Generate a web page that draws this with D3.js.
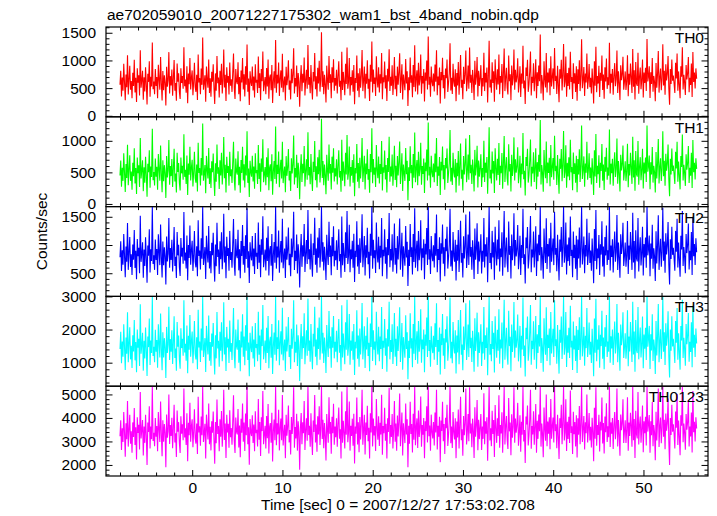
<!DOCTYPE html>
<html><head><meta charset="utf-8">
<script src="https://cdn.jsdelivr.net/npm/d3@7/dist/d3.min.js"></script>
<style>
body{margin:0;background:#fff}
svg{display:block}
text{font-family:"Liberation Sans",Arial,Helvetica,sans-serif;fill:#000}
</style>
</head><body>
<svg id="chart" width="717" height="516"></svg>
<script>
// ---------- data ----------
const chartTitle = "ae702059010_20071227175302_wam1_bst_4band_nobin.qdp";
const xAxisLabel = "Time [sec] 0 = 2007/12/27 17:53:02.708";
const yAxisLabel = "Counts/sec";
const panelNames = ["TH0", "TH1", "TH2", "TH3", "TH0123"];
const panelColors = ["#ff0000", "#00ff00", "#0000ff", "#00ffff", "#ff00ff"];
const timeStart = -8;      // sec, first bin
const binWidth = 0.0833;   // sec
const xTicksMajor = [0, 10, 20, 30, 40, 50];

const th0 = [
560,812,347,690,455,938,602,281,744,517,1094,386,655,903,472,628,
319,776,540,1012,421,687,250,859,598,733,366,1182,507,641,812,290,
695,438,876,573,204,759,612,984,345,706,529,1326,480,617,391,845,
537,702,318,921,654,472,1063,589,277,811,460,733,598,186,887,524,
642,1150,403,716,548,835,362,679,1008,452,590,273,944,617,768,431,
306,860,593,719,488,1237,534,654,415,896,229,762,571,1044,476,690,
820,371,608,958,520,433,742,287,1106,602,684,388,853,559,1412,470,
593,731,255,889,646,508,1017,412,678,344,795,615,930,497,214,766,
452,1078,587,693,329,812,556,940,403,628,1196,510,742,268,875,600,
719,384,961,545,661,432,788,1125,497,306,843,622,571,968,389,700,
264,817,604,1042,475,749,350,896,560,1289,433,675,197,804,617,538,
889,456,710,329,932,598,651,412,1071,502,767,282,846,624,1163,443,
577,702,390,865,531,1015,308,689,744,460,917,233,629,803,499,1368,
418,741,585,962,356,673,820,509,1120,426,598,708,275,884,552,692,
1004,471,636,297,851,590,746,1222,403,682,528,907,341,773,615,162,
664,915,446,757,598,1053,368,640,832,487,1279,561,700,409,918,533,
296,789,620,1136,478,713,350,868,582,995,437,656,1508,519,804,391,
742,563,241,906,635,470,1081,592,751,318,877,604,1020,455,680,544,
830,402,716,983,527,635,281,1158,468,793,609,371,940,576,1233,489,
616,1045,367,701,554,822,433,917,208,684,593,1090,452,769,337,858,
507,724,1187,446,639,892,315,760,581,1003,489,668,266,921,615,1341,
423,836,574,690,357,1074,642,511,878,420,752,583,1135,301,696,605,
981,492,733,266,850,619,1204,448,707,541,913,378,639,1062,480,722,
355,888,560,780,1129,413,656,931,294,744,602,462,1026,583,806,176,
694,461,1052,597,734,336,918,521,1273,440,679,823,387,956,548,663,
1109,399,717,586,846,259,780,633,1000,475,1432,562,703,346,890,614,
534,763,441,926,615,1185,373,708,552,873,224,791,643,1048,497,735,
310,854,678,1016,429,592,769,1311,458,687,395,942,610,527,839,265,
772,546,972,380,713,1098,506,652,300,885,575,748,1179,442,623,910,
487,1234,599,739,413,829,637,287,993,561,704,1062,349,812,538,683,
915,357,681,528,1140,446,776,604,872,239,730,1356,510,655,418,966,
591,803,253,1019,680,473,842,566,1105,391,720,597,937,322,774,1217,
446,694,869,509,384,1087,626,752,283,909,550,678,1196,472,833,605,
703,1038,422,615,894,340,764,581,1266,496,638,213,871,719,1014,433,
567,815,1163,367,703,592,950,446,684,1021,318,787,540,906,623,1470,
402,738,598,281,987,657,512,1132,422,780,602,859,370,1075,531,699,
856,485,1223,631,722,394,905,568,246,842,671,1011,459,736,1298,517,
618,1070,343,774,540,869,475,1157,612,701,305,948,585,768,431,893,
271,840,577,1003,446,718,1384,498,651,883,360,764,604,1126,487,647,
935,516,689,402,853,612,223,986,543,1249,427,719,582,902,341,778,
632,1089,468,745,309,876,620,1033,487,694,554,1320,401,760,598,843,
381,721,951,534,663,1178,410,805,590,286,912,643,748,1067,472,617,
802,466,624,1094,355,758,561,943,687,412,1205,525,822,294,970,580,
540,1137,398,706,872,481,649,1016,330,781,593,868,447,1385,622,711,
896,322,787,573,1044,436,720,611,262,955,508,760,1172,419,694,852,
463,669,1292,548,813,380,929,637,758,1081,497,202,845,574,1018,633,
728,584,413,960,676,1126,452,802,559,318,893,705,1240,476,741,600,
375,917,655,771,1060,424,688,556,943,341,1154,612,780,493,856,668];

const th1 = [
452,688,271,574,365,803,497,190,631,412,936,298,540,772,366,515,
226,651,438,880,323,570,158,735,487,612,270,1046,404,529,690,203,
581,337,748,462,115,636,503,851,255,592,426,1190,377,506,292,720,
430,589,224,792,541,368,925,482,186,690,359,614,489,96,758,418,
530,1013,305,601,441,711,268,566,872,355,482,183,812,506,647,334,
212,737,485,603,384,1102,429,541,318,768,142,640,462,904,373,578,
700,276,497,826,414,335,625,197,968,491,569,293,728,451,1274,369,
483,615,168,761,534,404,884,316,563,253,674,503,799,392,128,645,
352,943,478,580,238,690,449,811,309,516,1060,406,621,180,748,492,
602,290,828,439,549,333,666,985,392,215,719,510,463,836,295,588,
176,697,492,906,371,630,259,767,452,1150,334,561,110,684,505,432,
761,355,592,240,802,487,539,316,935,397,646,193,720,512,1024,344,
467,585,297,738,423,880,218,574,627,361,788,147,518,681,395,1228,
321,622,475,829,264,559,699,405,984,330,487,592,186,757,445,578,
870,370,523,206,725,482,627,1082,310,568,421,779,252,652,503,75,
549,786,348,638,487,916,276,527,708,384,1137,453,584,314,790,426,
205,666,508,997,375,596,260,741,472,858,339,543,1350,412,681,298,
624,455,152,777,521,368,942,481,632,229,749,493,882,356,566,437,
706,309,599,849,421,522,192,1018,367,670,497,280,810,465,1092,385,
504,908,276,586,446,697,336,788,122,570,483,951,352,648,247,730,
402,607,1046,347,527,763,228,640,471,866,384,555,178,792,503,1199,
327,712,463,577,268,934,530,406,752,323,631,473,995,214,582,494,
846,389,616,181,726,508,1063,350,592,436,784,289,527,922,378,606,
264,760,451,658,990,318,543,802,206,625,491,365,887,472,683,58,
579,364,913,486,615,250,789,414,1131,343,566,697,297,826,440,550,
968,305,601,475,719,174,655,520,862,373,1290,452,588,258,762,503,
425,641,343,797,504,1045,285,591,447,745,140,668,530,908,393,617,
225,728,563,877,333,484,647,1170,357,572,302,811,499,420,713,182,
651,438,837,290,598,958,401,540,214,758,465,628,1038,345,512,781,
383,1093,488,619,318,704,525,199,856,452,589,921,262,689,430,570,
785,270,569,421,1000,347,654,493,744,160,611,1214,405,543,325,832,
482,680,173,880,567,373,715,458,964,301,604,486,805,240,652,1075,
349,580,741,405,293,946,514,632,198,779,443,564,1054,372,706,494,
590,898,329,503,764,255,641,470,1124,392,527,135,743,600,875,338,
458,689,1020,278,588,483,818,347,570,881,232,662,433,777,510,1330,
308,617,487,194,853,544,408,990,327,657,491,731,281,934,424,584,
727,382,1081,520,606,301,775,459,163,715,556,870,361,617,1156,410,
507,929,258,650,434,740,374,1015,501,586,218,816,475,645,335,763,
187,712,466,864,348,601,1242,394,540,753,272,642,493,985,385,536,
803,410,576,308,725,500,141,850,436,1107,333,603,471,772,255,653,
521,948,367,624,222,745,509,891,383,578,446,1178,309,638,487,716,
290,603,818,428,551,1036,319,678,479,199,780,531,627,927,371,506,
674,362,514,953,266,633,452,809,569,318,1063,420,693,208,837,470,
432,996,305,590,741,377,539,875,243,655,482,737,348,1243,511,594,
766,234,662,465,903,338,603,502,180,821,404,637,1030,323,579,722,
362,557,1150,440,683,290,796,528,635,940,392,124,714,466,877,522,
608,474,318,828,561,985,352,671,451,231,760,586,1098,373,620,491,
286,785,542,648,919,331,573,447,810,253,1012,503,653,389,724,555];

const th2 = [
782,1065,540,906,652,1193,815,430,973,705,1388,560,870,1142,610,835,
468,1010,741,1266,592,897,395,1105,803,951,498,1520,702,846,1050,420,
920,628,1137,776,330,990,812,1280,515,924,717,1680,666,818,560,1098,
735,928,470,1190,866,644,1365,790,425,1061,640,961,800,300,1150,710,
850,1480,596,946,737,1092,532,890,1320,630,790,418,1230,817,1003,605,
453,1125,795,950,668,1585,724,866,585,1170,375,1002,769,1345,650,912,
1073,541,816,1249,704,605,977,445,1436,806,903,566,1118,755,1680,648,
797,962,398,1162,856,689,1335,584,892,500,1038,818,1215,677,352,1008,
624,1395,787,918,488,1066,748,1227,572,836,1554,690,975,412,1145,805,
948,544,1250,734,877,598,1029,1460,673,458,1105,823,766,1268,551,925,
410,1070,804,1356,650,984,510,1174,752,1652,598,889,326,1048,818,729,
1160,623,936,486,1213,794,862,575,1399,684,1006,430,1103,829,1510,607,
766,920,548,1128,715,1330,460,907,980,632,1196,362,829,1052,684,1680,
582,975,778,1257,510,885,1072,690,1466,588,795,936,415,1152,740,910,
1310,643,844,448,1113,784,981,1590,557,898,716,1185,495,1011,815,250,
874,1194,613,994,795,1373,522,845,1089,666,1620,750,923,568,1198,716,
440,1032,822,1481,650,937,508,1133,776,1299,602,867,1680,705,1050,547,
970,753,380,1180,838,646,1411,787,989,466,1143,801,1330,622,898,731,
1084,557,941,1280,714,841,420,1506,642,1037,807,521,1225,768,1600,666,
815,1360,518,922,748,1076,598,1197,345,900,786,1420,620,1006,487,1121,
688,953,1545,606,840,1160,462,996,773,1306,661,881,405,1201,812,1680,
579,1092,765,906,505,1399,848,690,1145,570,985,776,1476,445,914,800,
1279,667,959,402,1108,820,1565,606,927,727,1190,528,840,1380,652,946,
495,1157,744,1018,1470,561,863,1215,437,976,798,634,1338,778,1056,275,
915,630,1372,790,962,476,1196,700,1650,597,889,1076,534,1247,731,871,
1440,551,940,776,1103,392,1020,833,1302,646,1680,745,925,485,1160,812,
712,997,602,1208,811,1540,516,928,733,1136,355,1032,845,1365,668,961,
445,1112,889,1324,582,778,1002,1640,621,901,540,1229,804,705,1092,372,
1006,723,1265,523,932,1430,685,856,427,1155,760,975,1540,595,818,1186,
648,1593,792,966,562,1082,838,400,1294,741,920,1385,487,1060,710,895,
1192,495,897,704,1480,601,1012,795,1137,342,952,1680,683,860,570,1250,
780,1050,384,1325,890,636,1096,749,1440,532,940,785,1224,458,1011,1600,
601,905,1133,680,520,1418,826,980,405,1186,731,893,1560,634,1087,798,
921,1354,573,810,1165,468,998,771,1640,660,838,318,1133,942,1320,583,
752,1066,1515,516,918,780,1240,600,897,1333,450,1027,713,1180,820,1680,
548,962,790,401,1290,865,683,1475,577,1016,795,1120,508,1396,704,912,
1114,644,1590,828,946,535,1180,750,370,1098,882,1318,612,960,1680,685,
811,1397,480,1009,715,1133,632,1505,805,917,431,1237,770,1003,580,1163,
380,1096,762,1308,598,937,1680,657,857,1150,500,998,796,1466,646,848,
1218,681,901,545,1113,806,325,1284,718,1620,572,937,766,1178,470,1014,
830,1420,620,974,440,1141,816,1347,646,906,735,1680,549,992,788,1101,
515,940,1238,705,872,1530,556,1046,778,420,1189,843,977,1392,628,808,
1045,617,820,1425,488,989,740,1230,898,560,1569,692,1072,405,1262,763,
710,1480,530,926,1137,638,852,1322,460,1019,781,1133,597,1680,817,928,
1168,448,1027,755,1359,579,940,800,365,1245,673,991,1528,560,906,1110,
614,876,1660,723,1061,510,1207,834,987,1408,655,300,1102,752,1324,826,
950,768,545,1250,883,1465,601,1045,730,438,1165,922,1600,629,964,787,
500,1196,857,1006,1380,565,899,731,1228,470,1502,800,1017,645,1118,871];

const th3 = [
1410,1930,980,1640,1180,2160,1470,780,1760,1270,2520,1010,1570,2070,1100,1510,
840,1830,1340,2290,1070,1620,710,2000,1450,1720,900,2760,1270,1530,1900,760,
1660,1130,2060,1400,600,1790,1470,2330,930,1670,1290,3000,1200,1480,1010,1990,
1330,1680,850,2160,1570,1160,2480,1430,770,1920,1160,1740,1450,540,2080,1290,
1540,2690,1080,1710,1330,1980,960,1610,2400,1140,1430,760,2230,1480,1820,1100,
820,2040,1440,1720,1210,2880,1310,1570,1060,2120,680,1810,1390,2440,1180,1650,
1940,980,1480,2260,1270,1100,1770,800,2600,1460,1640,1020,2030,1370,3000,1170,
1440,1740,720,2110,1550,1250,2420,1060,1620,910,1880,1480,2200,1230,640,1830,
1130,2530,1430,1660,880,1930,1360,2220,1040,1520,2820,1250,1770,750,2080,1460,
1720,990,2270,1330,1590,1080,1860,2650,1220,830,2000,1490,1390,2300,1000,1680,
740,1940,1460,2460,1180,1790,920,2130,1360,3000,1080,1610,590,1900,1480,1320,
2100,1130,1700,880,2200,1440,1560,1040,2540,1240,1820,780,2000,1500,2740,1100,
1390,1670,990,2050,1290,2410,830,1640,1780,1150,2170,660,1500,1910,1240,3000,
1060,1770,1410,2280,920,1610,1950,1250,2660,1070,1440,1700,750,2090,1340,1650,
2380,1170,1530,810,2020,1420,1780,2880,1010,1630,1300,2150,900,1830,1480,450,
1590,2170,1110,1800,1440,2490,950,1530,1980,1210,2940,1360,1670,1030,2170,1300,
800,1870,1490,2690,1180,1700,920,2050,1410,2360,1090,1570,3000,1280,1900,990,
1760,1370,690,2140,1520,1170,2560,1430,1790,850,2070,1450,2410,1130,1630,1330,
1960,1010,1710,2320,1300,1530,760,2730,1160,1880,1460,950,2220,1390,2900,1210,
1480,2470,940,1670,1360,1950,1090,2170,630,1630,1430,2580,1120,1820,880,2030,
1250,1730,2800,1100,1520,2100,840,1810,1400,2370,1200,1600,740,2180,1470,3000,
1050,1980,1390,1640,920,2540,1540,1250,2080,1040,1790,1410,2680,810,1660,1450,
2320,1210,1740,730,2010,1490,2840,1100,1680,1320,2160,960,1520,2500,1180,1720,
900,2100,1350,1840,2670,1020,1560,2200,790,1770,1450,1150,2430,1410,1920,500,
1660,1140,2490,1430,1740,860,2170,1270,3000,1080,1610,1950,970,2260,1330,1580,
2610,1000,1700,1410,2000,710,1850,1510,2360,1170,3000,1350,1680,880,2100,1470,
1290,1810,1090,2190,1470,2790,930,1680,1330,2060,640,1870,1530,2470,1210,1740,
810,2010,1610,2400,1060,1410,1820,2970,1130,1630,980,2230,1460,1280,1980,670,
1820,1310,2290,950,1690,2590,1240,1550,770,2090,1380,1770,2790,1080,1480,2150,
1170,2880,1440,1750,1020,1960,1520,730,2340,1350,1670,2510,880,1920,1290,1620,
2160,900,1630,1280,2680,1090,1830,1440,2060,620,1730,3000,1240,1560,1040,2260,
1410,1900,700,2400,1610,1150,1990,1360,2610,970,1700,1430,2210,830,1830,2900,
1090,1640,2050,1230,940,2570,1500,1780,740,2150,1320,1620,2830,1150,1970,1450,
1670,2450,1040,1470,2110,850,1810,1400,2970,1200,1520,580,2050,1710,2390,1060,
1360,1930,2740,940,1660,1410,2250,1090,1630,2410,820,1860,1290,2140,1490,3000,
990,1740,1430,730,2340,1570,1240,2670,1050,1840,1440,2030,920,2530,1280,1650,
2020,1170,2880,1500,1710,970,2140,1360,670,1990,1600,2390,1110,1740,3000,1240,
1470,2530,870,1830,1300,2050,1140,2720,1460,1660,780,2240,1400,1820,1050,2110,
690,1990,1380,2370,1080,1700,3000,1190,1550,2080,910,1810,1440,2650,1170,1540,
2210,1240,1630,990,2020,1460,590,2330,1300,2930,1040,1700,1390,2130,850,1840,
1500,2570,1120,1760,800,2070,1480,2440,1170,1640,1330,3000,1000,1800,1430,2000,
930,1700,2240,1280,1580,2770,1010,1900,1410,760,2150,1530,1770,2520,1140,1460,
1890,1120,1490,2580,890,1790,1340,2230,1630,1020,2840,1250,1940,730,2290,1380,
1290,2680,1100,1680,2060,1160,1550,2390,830,1850,1420,2050,1080,3000,1480,1720,
2110,810,1860,1370,2460,1050,1700,1450,660,2260,1220,1800,2770,1010,1640,2010,
1110,1590,3000,1330,1920,930,2190,1510,1780,2550,1190,550,2000,1360,2400,1490,
1720,1390,990,2260,1600,2650,1090,1890,1320,790,2110,1670,2900,1140,1750,1420,
910,2170,1560,1820,2500,1030,1630,1320,2220,860,2720,1450,1840,1170,2030,1580];

const th0123 = [
3220,3900,2640,3560,2980,4250,3380,2350,3770,3090,4720,2780,3490,4130,2900,3430,
2520,3810,3190,4420,2850,3600,2230,4030,3360,3710,2660,5100,3130,3480,3910,2400,
3630,2940,4140,3250,2000,3810,3400,4500,2700,3640,3100,5350,3020,3370,2800,4000,
3200,3660,2580,4250,3530,2980,4700,3320,2370,3900,2990,3740,3370,1900,4150,3160,
3440,5000,2890,3700,3230,4010,2710,3590,4560,2960,3350,2340,4320,3410,3820,2930,
2510,4070,3330,3730,3050,5250,3170,3560,2850,4200,2160,3800,3260,4650,2990,3650,
3940,2750,3420,4370,3140,2910,3760,2470,4900,3380,3650,2820,4060,3260,5350,2980,
3350,3750,2270,4140,3540,3080,4610,2880,3620,2620,3860,3370,4270,3040,2050,3830,
2920,4780,3320,3660,2580,3940,3200,4290,2780,3470,5200,3060,3760,2300,4130,3380,
3750,2730,4330,3180,3570,2860,3870,4960,3020,2510,4020,3410,3300,4380,2740,3680,
2330,3960,3370,4610,2990,3800,2590,4190,3260,5350,2880,3600,2010,3950,3390,3230,
4110,2930,3720,2580,4280,3350,3500,2790,4800,3070,3830,2380,4030,3440,5150,2880,
3290,3670,2700,4080,3140,4590,2490,3620,3780,2950,4220,2150,3440,3930,3050,5350,
2840,3770,3300,4350,2620,3590,3970,3050,4980,2830,3360,3710,2290,4130,3240,3640,
4530,2960,3490,2450,4040,3320,3790,5300,2730,3610,3130,4180,2610,3860,3390,1800,
3590,4210,2880,3820,3350,4720,2640,3500,3990,3030,5350,3270,3670,2780,4200,3150,
2420,3890,3400,4980,2960,3720,2560,4070,3300,4500,2850,3540,5350,3100,3920,2710,
3780,3240,2190,4170,3480,2950,4880,3330,3830,2480,4050,3350,4600,2860,3630,3180,
3990,2780,3740,4440,3120,3520,2280,5120,2940,3880,3370,2700,4280,3290,5350,2970,
3390,4700,2610,3670,3230,3970,2820,4180,2060,3630,3330,4870,2870,3820,2540,4040,
3080,3730,5200,2860,3500,4130,2440,3810,3280,4520,3010,3580,2280,4200,3380,5350,
2790,3980,3250,3650,2590,4810,3520,3070,4070,2810,3790,3300,4990,2430,3660,3350,
4430,3030,3750,2270,3990,3400,5280,2900,3700,3190,4170,2700,3510,4720,2990,3760,
2600,4100,3210,3850,5040,2800,3550,4230,2400,3770,3350,2930,4610,3300,3940,1900,
3670,2900,4690,3320,3740,2530,4180,3070,5350,2840,3600,3980,2720,4320,3190,3570,
4910,2770,3700,3290,4000,2290,3860,3440,4500,2960,5350,3220,3680,2600,4140,3390,
3130,3830,2830,4230,3380,5200,2660,3670,3200,4050,2120,3890,3450,4690,3010,3740,
2470,4010,3560,4560,2810,3290,3850,5350,2920,3630,2720,4250,3380,3080,3990,2290,
3850,3170,4360,2700,3680,4900,3050,3520,2390,4080,3260,3770,5250,2870,3390,4170,
3010,5300,3340,3760,2750,3970,3450,2300,4450,3200,3670,4760,2630,3920,3100,3610,
4170,2640,3630,3110,5050,2880,3860,3330,4030,2180,3730,5350,3040,3560,2800,4300,
3320,3910,2340,4550,3590,2940,3990,3230,4960,2730,3700,3340,4240,2520,3830,5350,
2870,3650,4080,3070,2680,4850,3430,3800,2410,4160,3160,3630,5300,2950,3970,3370,
3690,4640,2820,3380,4110,2560,3840,3290,5350,3000,3490,2080,4060,3720,4530,2830,
3240,3930,5200,2690,3660,3300,4280,2860,3620,4590,2520,3880,3110,4150,3430,5350,
2780,3760,3330,2330,4440,3520,3030,5000,2800,3850,3330,4030,2670,4800,3120,3650,
4020,2960,5350,3440,3730,2710,4130,3250,2250,3990,3570,4560,2880,3760,5350,3040,
3380,4790,2590,3840,3100,4050,2930,5170,3360,3650,2470,4260,3310,3830,2790,4110,
2320,3990,3290,4510,2880,3700,5350,2980,3550,4080,2660,3820,3350,5000,2960,3530,
4210,3040,3620,2740,4010,3400,2160,4430,3120,5300,2820,3700,3280,4130,2570,3840,
3470,4870,2910,3780,2490,4060,3390,4620,2980,3640,3180,5350,2760,3810,3330,4000,
2680,3700,4250,3090,3570,5250,2790,3910,3300,2390,4150,3480,3780,4790,2930,3440,
3900,2930,3470,4880,2600,3800,3230,4220,3630,2770,5350,3050,3950,2300,4300,3300,
3130,5100,2870,3680,4060,2950,3540,4530,2540,3860,3350,4050,2830,5350,3420,3720,
4120,2520,3860,3260,4680,2800,3700,3380,2200,4260,3040,3800,5250,2760,3640,4020,
2920,3580,5350,3200,3920,2670,4190,3460,3780,4830,2990,2000,4000,3270,4560,3410,
3730,3330,2700,4270,3580,5020,2850,3890,3210,2410,4110,3670,5350,2970,3760,3370,
2650,4170,3500,3820,4760,2790,3630,3210,4230,2530,5150,3390,3840,3000,4030,3550];

const seriesValues = [th0, th1, th2, th3, th0123];
const yDomains = [[-18, 1604], [-42, 1380], [90, 1680], [290, 3000], [1530, 5350]];
const yTicksMajor = [[0, 500, 1000, 1500], [0, 500, 1000], [500, 1000, 1500], [1000, 2000, 3000], [2000, 3000, 4000, 5000]];
const yMinorStep = [100, 100, 100, 200, 200];

// ---------- layout ----------
const plotLeft = 106, plotRight = 708, plotTop = 27, plotBottom = 476;
const nP = panelNames.length;
const pH = (plotBottom - plotTop) / nP;
const FS = 15.5;

const svg = d3.select("#chart");
const x = d3.scaleLinear().domain([-9.55, 57.15]).range([plotLeft, plotRight]);
const xMinor = d3.range(-8, 58, 2).filter(v => v % 10 !== 0);

svg.append("text").attr("x", 107).attr("y", 20).attr("font-size", FS).text(chartTitle);

panelNames.forEach((name, i) => {
  const y0 = plotTop + i * pH, y1 = y0 + pH;
  const y = d3.scaleLinear().domain(yDomains[i]).range([y1, y0]);
  const g = svg.append("g");
  const clipId = "clip" + i;
  svg.append("clipPath").attr("id", clipId).append("rect")
    .attr("x", plotLeft).attr("y", y0).attr("width", plotRight - plotLeft).attr("height", pH);

  const vals = seriesValues[i];
  const pts = vals.map((v, k) => [timeStart + k * binWidth, v]);
  const line = d3.line().x(d => x(d[0])).y(d => y(d[1]));
  g.append("path").datum(pts)
    .attr("clip-path", `url(#${clipId})`)
    .attr("d", line).attr("fill", "none")
    .attr("stroke", panelColors[i]).attr("stroke-width", 1.1)
    .attr("stroke-linejoin", "bevel");

  const styleAxis = sel => {
    sel.select(".domain").remove();
    sel.selectAll("line").attr("stroke", "#000").attr("stroke-width", 1);
    sel.selectAll("text").attr("font-size", FS).attr("font-family", '"Liberation Sans",Arial,sans-serif').attr("fill", "#000");
  };

  const yMinor = d3.range(Math.ceil(yDomains[i][0] / yMinorStep[i]) * yMinorStep[i], yDomains[i][1], yMinorStep[i])
    .filter(v => !yTicksMajor[i].includes(v));
  g.append("g").attr("transform", `translate(${plotLeft},0)`)
    .call(d3.axisLeft(y).tickValues(yTicksMajor[i]).tickSize(-6.5).tickPadding(10).tickFormat(d3.format("d")))
    .call(styleAxis);
  g.append("g").attr("transform", `translate(${plotLeft},0)`)
    .call(d3.axisLeft(y).tickValues(yMinor).tickSize(-3.5).tickFormat(""))
    .call(styleAxis);
  g.append("g").attr("transform", `translate(${plotRight},0)`)
    .call(d3.axisRight(y).tickValues(yTicksMajor[i]).tickSize(-6.5).tickFormat(""))
    .call(styleAxis);
  g.append("g").attr("transform", `translate(${plotRight},0)`)
    .call(d3.axisRight(y).tickValues(yMinor).tickSize(-3.5).tickFormat(""))
    .call(styleAxis);

  g.append("g").attr("transform", `translate(0,${y0})`)
    .call(d3.axisTop(x).tickValues(xTicksMajor).tickSize(-6).tickFormat(""))
    .call(styleAxis);
  g.append("g").attr("transform", `translate(0,${y0})`)
    .call(d3.axisTop(x).tickValues(xMinor).tickSize(-3.5).tickFormat(""))
    .call(styleAxis);
  const last = i === nP - 1;
  g.append("g").attr("transform", `translate(0,${y1})`)
    .call(d3.axisBottom(x).tickValues(xTicksMajor).tickSize(-6).tickPadding(6)
      .tickFormat(last ? d3.format("d") : ""))
    .call(styleAxis);
  g.append("g").attr("transform", `translate(0,${y1})`)
    .call(d3.axisBottom(x).tickValues(xMinor).tickSize(-3.5).tickFormat(""))
    .call(styleAxis);

  g.append("rect").attr("x", plotLeft).attr("y", y0).attr("width", plotRight - plotLeft).attr("height", pH)
    .attr("fill", "none").attr("stroke", "#000").attr("stroke-width", 1.2);

  g.append("text").attr("x", 704).attr("y", y0 + 16).attr("text-anchor", "end")
    .attr("font-size", FS).text(name);
});

svg.append("text").attr("x", 261).attr("y", 510).attr("font-size", FS).text(xAxisLabel);
svg.append("text").attr("transform", "translate(47,231.5) rotate(-90)")
  .attr("text-anchor", "middle").attr("font-size", FS).text(yAxisLabel);
</script>
</body></html>
